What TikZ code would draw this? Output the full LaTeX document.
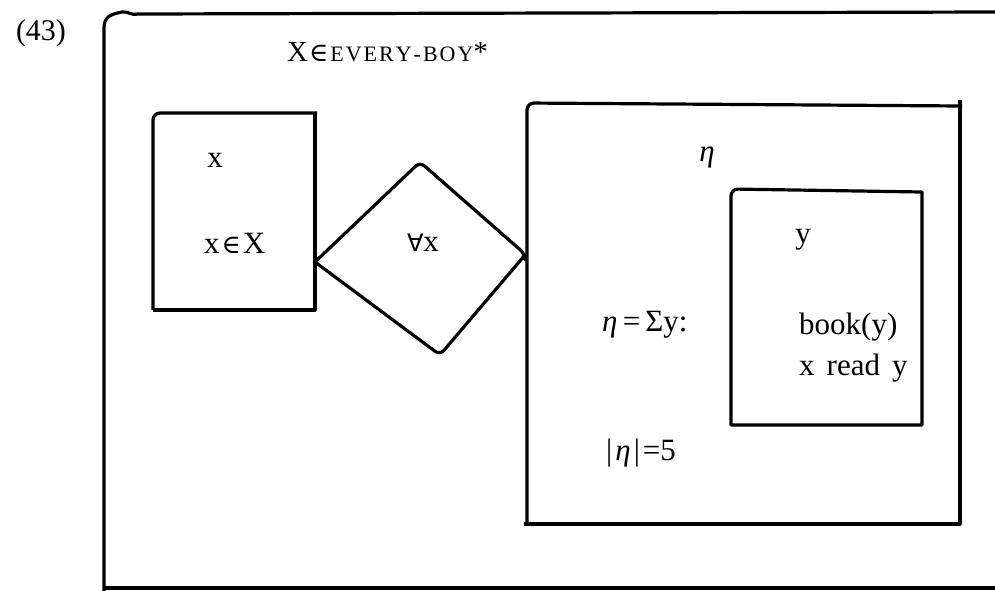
\documentclass[tikz,border=0pt]{standalone}
\usepackage{fontspec}
\setmainfont{Liberation Serif}
\newfontfamily\dvs{DejaVu Sans}
\newfontfamily\dvserif{DejaVu Serif}
\newcommand{\elem}{{\dvserif\fontsize{26}{30}\selectfont ∈}}
\begin{document}
\begin{tikzpicture}[x=1pt,y=-1pt,
  ln/.style={line width=3.2pt, line join=round},
  txt/.style={inner sep=0pt, font=\fontsize{31}{34}\selectfont},
  ltxt/.style={txt, anchor=west}]
\useasboundingbox (0,0) rectangle (995,590);
% outer box
\draw[ln] (104,592) -- (104,28) .. controls (104,16) and (112,14) .. (122,12)
  .. controls (128,11) and (132,16) .. (138,14) -- (995,12);
\draw[ln] (104,588) -- (995,588);
\node[txt, font=\fontsize{30}{34}\selectfont] (num) at (41,33) {(43)};
\node[txt, font=\fontsize{29}{32}\selectfont, anchor=west] (title) at (287,52) {X\kern1pt\elem\kern2pt{\fontsize{22}{26}\selectfont E\kern2pt V\kern2pt E\kern2pt R\kern2pt Y\kern2pt -\kern2pt B\kern2pt O\kern2pt Y}*};
% left box
\draw[ln] (153,310) [rounded corners=7pt] -- (153,113) [sharp corners] -- (317,113);
\draw[ln] (315,112) -- (315,310) -- (153,310);
\node[txt] (x1) at (215,160) {x};
\node[ltxt] (x2) at (204,243) {x\kern2pt\elem\kern2pt X};
% diamond
\draw[ln] (315,262) [rounded corners=6pt] -- (420,162) -- (525,254) [sharp corners] -- (525,255) [rounded corners=6pt] -- (440,355) [sharp corners] -- cycle;
\node[txt] (fa) at (423,243) {{\dvs\fontsize{24}{28}\selectfont ∀}x};
% right box
\draw[ln] (527,524) [rounded corners=7pt] -- (527,103) [sharp corners] -- (962,106);
\draw[ln] (960,100) -- (960,524) -- (524,524);
\node[txt] (eta) at (707,157) {\itshape η};
\node[ltxt] (sum) at (602,325) {{\itshape η}\,=\,Σy:};
\node[ltxt] (card) at (606,453) {|\kern3pt{\itshape η}\kern3pt|\kern3pt=5};
% inner box
\draw[ln] (731,425) [rounded corners=7pt] -- (731,189) [sharp corners] -- (922,192) -- (922,425) -- cycle;
\node[txt] (y) at (803,240) {y};
\node[ltxt] (book) at (799,327) {book(y)};
\node[ltxt] (read) at (799,368) {x\hspace{12pt}read\hspace{12pt}y};
\end{tikzpicture}
\end{document}
